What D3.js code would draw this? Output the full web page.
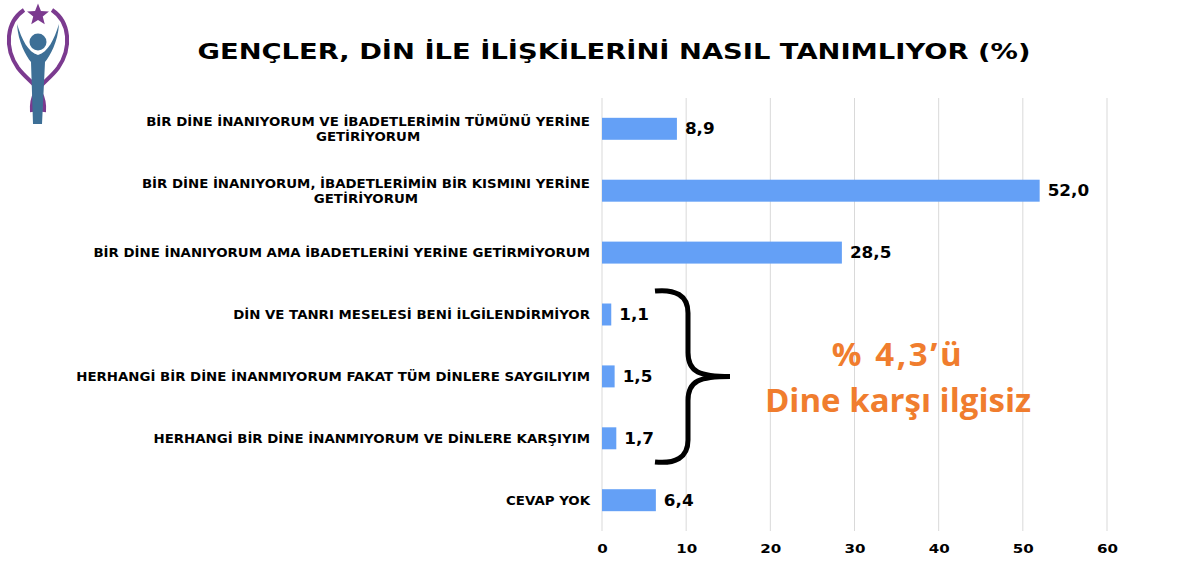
<!DOCTYPE html>
<html><head><meta charset="utf-8">
<script src="https://cdn.jsdelivr.net/npm/d3@7"></script>
<style>body{margin:0;background:#fff}svg{display:block}</style>
</head><body>
<svg id="c" width="1200" height="576"></svg>
<script>
const categories = [
  ["BİR DİNE İNANIYORUM VE İBADETLERİMİN TÜMÜNÜ YERİNE", "GETİRİYORUM"],
  ["BİR DİNE İNANIYORUM, İBADETLERİMİN BİR KISMINI YERİNE", "GETİRİYORUM"],
  ["BİR DİNE İNANIYORUM AMA İBADETLERİNİ YERİNE GETİRMİYORUM"],
  ["DİN VE TANRI MESELESİ BENİ İLGİLENDİRMİYOR"],
  ["HERHANGİ BİR DİNE İNANMIYORUM FAKAT TÜM DİNLERE SAYGILIYIM"],
  ["HERHANGİ BİR DİNE İNANMIYORUM VE DİNLERE KARŞIYIM"],
  ["CEVAP YOK"]
];
const values = [8.9, 52.0, 28.5, 1.1, 1.5, 1.7, 6.4];
const tickValues = [0, 10, 20, 30, 40, 50, 60];
const title = "GENÇLER, DİN İLE İLİŞKİLERİNİ NASIL TANIMLIYOR (%)";
const noteLines = ["% 4,3’ü", "Dine karşı ilgisiz"];

(function () {
const svg = d3.select("#c");
const x = d3.scaleLinear().domain([0, 60]).range([602, 1107]);
const y = d3.scaleBand().domain(d3.range(values.length)).range([98, 531]).paddingInner(0.645).paddingOuter(0.32);
const F = "DejaVu Sans, Verdana, sans-serif";
const stretch = 1.16;

function widen(sel, k) {
  sel.each(function () {
    const w = this.getComputedTextLength();
    d3.select(this).attr("textLength", w * k).attr("lengthAdjust", "spacingAndGlyphs");
  });
}

// title
svg.append("text").attr("x", 614).attr("y", 59).attr("text-anchor", "middle")
  .attr("font-family", F).attr("font-weight", "bold")
  .attr("font-size", 22).attr("fill", "#000")
  .attr("textLength", 833).attr("lengthAdjust", "spacingAndGlyphs").text(title);

// gridlines
svg.append("g").selectAll("line").data(tickValues).join("line")
  .attr("x1", d => x(d)).attr("x2", d => x(d)).attr("y1", 98).attr("y2", 531)
  .attr("stroke", "#d9d9d9").attr("stroke-width", 1);

// axis
const ax = svg.append("g").attr("transform", "translate(0,531)")
  .call(d3.axisBottom(x).tickValues(tickValues).tickSize(0).tickPadding(13).tickFormat(d3.format("d")));
ax.select(".domain").remove();
ax.selectAll("text").attr("font-family", F).attr("font-weight", "bold")
  .attr("font-size", 13).attr("fill", "#000");
widen(ax.selectAll("text"), stretch);

// bars
svg.append("g").selectAll("rect").data(values).join("rect")
  .attr("x", x(0)).attr("y", (d, i) => y(i)).attr("width", d => x(d) - x(0)).attr("height", y.bandwidth())
  .attr("fill", "#64a0f6");

// value labels
const vl = svg.append("g").selectAll("text").data(values).join("text")
  .attr("x", d => x(d) + 8).attr("y", (d, i) => y(i) + y.bandwidth() / 2 + 5.5)
  .attr("font-family", F).attr("font-weight", "bold").attr("font-size", 15)
  .attr("fill", "#000").text(d => d.toFixed(1).replace(".", ","));
widen(vl, 1.12);

// category labels (one text per line)
const lineData = [];
categories.forEach((lines, i) => lines.forEach((ln, k) => lineData.push({ i, k, n: lines.length, ln })));
const cg = svg.append("g");
const cl = cg.selectAll("text").data(lineData).join("text")
  .attr("x", 590)
  .attr("y", d => y(d.i) + y.bandwidth() / 2 + 4.5 + (d.k - (d.n - 1) / 2) * 15)
  .attr("text-anchor", "end")
  .attr("font-family", F).attr("font-weight", "bold").attr("font-size", 11.5)
  .attr("fill", "#000").text(d => d.ln);
widen(cl, stretch);
cl.each(function (d) {
  if (d.n > 1 && d.k === 1) {
    const first = cl.filter(e => e.i === d.i && e.k === 0).node();
    const w = +first.getAttribute("textLength");
    d3.select(this).attr("text-anchor", "middle").attr("x", 590 - w / 2);
  }
});

// curly brace
const bx = 655, bTop = 291, bBot = 462, bMid = (bTop + bBot) / 2;
svg.append("path")
  .attr("d", `M${bx},${bTop} C${bx+20},${bTop-2} ${bx+33},${bTop+4} ${bx+33},${bTop+22} L${bx+33},${bMid-24} C${bx+33},${bMid-4} ${bx+45},${bMid} ${bx+75},${bMid}
              M${bx+75},${bMid} C${bx+45},${bMid} ${bx+33},${bMid+4} ${bx+33},${bMid+24} L${bx+33},${bBot-22} C${bx+33},${bBot-4} ${bx+20},${bBot+2} ${bx},${bBot}`)
  .attr("fill", "none").attr("stroke", "#000").attr("stroke-width", 5).attr("stroke-linecap", "butt");

// note
svg.append("g").selectAll("text").data(noteLines).join("text")
  .attr("x", 898).attr("y", (d, i) => 366 + i * 46).attr("text-anchor", "middle")
  .attr("font-family", "Open Sans, Lato, sans-serif").attr("font-weight", "bold").attr("font-size", 33)
  .attr("letter-spacing", (d, i) => i === 0 ? 2.6 : 0)
  .attr("fill", "#f07d2e").text(d => d);

// logo
const lg = svg.append("g");
const starPts = d3.range(10).map(i => {
  const r = i % 2 ? 5 : 11.5, a = -Math.PI / 2 + i * Math.PI / 5;
  return [38 + r * Math.cos(a), 15 + r * Math.sin(a)];
});
lg.append("path").attr("d", "M" + starPts.join("L") + "Z").attr("fill", "#7b3a8f");
lg.append("path").attr("d", "M24,10 C6,22 4,48 18,68 C30,84 46,88 44,112")
  .attr("fill", "none").attr("stroke", "#7b3a8f").attr("stroke-width", 4);
lg.append("path").attr("d", "M52,10 C70,22 72,48 58,68 C46,84 30,88 32,112")
  .attr("fill", "none").attr("stroke", "#7b3a8f").attr("stroke-width", 4);
lg.append("circle").attr("cx", 38).attr("cy", 42).attr("r", 8.5).attr("fill", "#3d6f96");
lg.append("path").attr("d", "M17,24 C18,42 26,56 31,62 L33,124 L42,124 L45,62 C50,56 58,42 59,24 C54,40 48,52 38,55 C28,52 22,40 17,24 Z")
  .attr("fill", "#3d6f96");
})();
</script>
</body></html>
